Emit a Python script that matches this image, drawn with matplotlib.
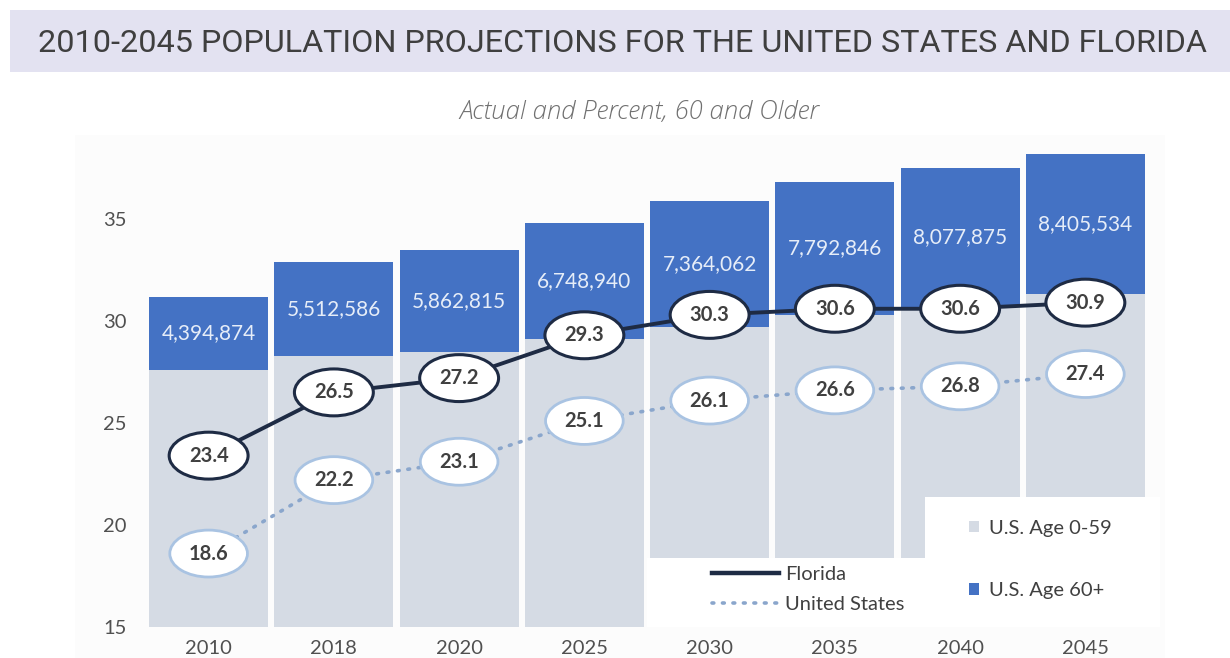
import matplotlib
matplotlib.use("Agg")
import matplotlib.pyplot as plt
from matplotlib.patches import Ellipse, Rectangle, Patch
from matplotlib.lines import Line2D
import numpy as np

# ---------------- data ----------------
years = ["2010", "2018", "2020", "2025", "2030", "2035", "2040", "2045"]
us_age_0_59 = [27.6, 28.3, 28.5, 29.1, 29.7, 30.3, 30.7, 31.3]
us_age_60_plus = [3.6, 4.6, 5.0, 5.7, 6.2, 6.5, 6.8, 6.9]
fl_pop_60_plus = [4394874, 5512586, 5862815, 6748940, 7364062, 7792846, 8077875, 8405534]
florida_pct = [23.4, 26.5, 27.2, 29.3, 30.3, 30.6, 30.6, 30.9]
us_pct = [18.6, 22.2, 23.1, 25.1, 26.1, 26.6, 26.8, 27.4]
yticks = [15, 20, 25, 30, 35]

TITLE = "2010-2045 POPULATION PROJECTIONS FOR THE UNITED STATES AND FLORIDA"
SUBTITLE = "Actual and Percent, 60 and Older"

# ---------------- style ----------------
plt.rcParams["font.family"] = ["Lato", "DejaVu Sans"]
GRAY = "#d5dbe4"
BLUE = "#4472c4"
NAVY = "#1e2b44"
LBLUE = "#8aa6cc"
TXT = "#404040"

W, H = 1230, 658
fig = plt.figure(figsize=(W / 100, H / 100), dpi=100)
fig.patch.set_facecolor("white")


def fx(px):
    return px / W


def fy(py):
    return 1 - py / H


# background blocks
fig.patches.append(Rectangle((fx(75), 0), fx(1165) - fx(75), fy(135), transform=fig.transFigure,
                             facecolor="#fcfcfc", edgecolor="none", zorder=-2))
fig.patches.append(Rectangle((fx(10), fy(72)), 1 - fx(10), fy(10) - fy(72), transform=fig.transFigure,
                             facecolor="#e3e2f1", edgecolor="none", zorder=-2))

fig.text(fx(622), fy(44), TITLE, ha="center", va="center", fontsize=23.3, color="#3f3f3f",
         family=["Roboto", "DejaVu Sans"])
fig.text(fx(639), fy(113), SUBTITLE, ha="center", va="center", fontsize=18.5, color="#707070",
         style="italic", fontweight="light", family=["Open Sans", "DejaVu Sans"])

ax = fig.add_axes([fx(146), fy(627), fx(1148) - fx(146), fy(137.4) - fy(627)])
ax.set_facecolor("none")
x = np.arange(len(years))

ax.bar(x, us_age_0_59, width=0.95, color=GRAY, zorder=1)
ax.bar(x, us_age_60_plus, bottom=us_age_0_59, width=0.95, color=BLUE, zorder=1)

for i in range(len(years)):
    ax.text(x[i], us_age_0_59[i] + us_age_60_plus[i] / 2, f"{fl_pop_60_plus[i]:,}",
            ha="center", va="center", fontsize=15, color="#e6edf8", zorder=2)

ax.plot(x, florida_pct, color=NAVY, lw=2.8, zorder=3, solid_capstyle="round")
ax.plot(x, us_pct, color=LBLUE, lw=2.6, ls=(0, (0.5, 2.4)), dash_capstyle="round", zorder=3)

for i in range(len(years)):
    ax.add_patch(Ellipse((x[i], florida_pct[i]), 0.63, 2.3, facecolor="white", edgecolor=NAVY,
                         lw=2.2, zorder=4))
    ax.text(x[i], florida_pct[i], f"{florida_pct[i]:.1f}", ha="center", va="center",
            fontsize=14.5, fontweight="bold", color=TXT, zorder=5)
    ax.add_patch(Ellipse((x[i], us_pct[i]), 0.62, 2.3, facecolor="white", edgecolor="#a9c3e2",
                         lw=2.0, zorder=4))
    ax.text(x[i], us_pct[i], f"{us_pct[i]:.1f}", ha="center", va="center",
            fontsize=14.5, fontweight="bold", color=TXT, zorder=5)

ax.set_xlim(-0.5, len(years) - 0.5)
ax.set_ylim(15, 39)
ax.set_xticks(x)
ax.set_xticklabels(years)
ax.set_yticks(yticks)
ax.tick_params(axis="both", length=0, labelsize=14.5, labelcolor="#505050")
ax.tick_params(axis="x", pad=9)
ax.tick_params(axis="y", pad=14)
for s in ax.spines.values():
    s.set_visible(False)

# legend backgrounds
ax.add_patch(Rectangle((0.5, 0), 0.277, 0.141, transform=ax.transAxes, facecolor="white",
                       edgecolor="none", zorder=6, clip_on=False))
ax.add_patch(Rectangle((0.777, 0), 0.235, 0.2655, transform=ax.transAxes, facecolor="white",
                       edgecolor="none", zorder=6, clip_on=False))

h1 = [Line2D([], [], color=NAVY, lw=3.2),
      Line2D([], [], color=LBLUE, lw=2.6, ls=(0, (0.5, 2.4)), dash_capstyle="round")]
leg1 = ax.legend(h1, ["Florida", "United States"], loc="center left",
                 bbox_to_anchor=(0.565, 0.0766), bbox_transform=ax.transAxes, frameon=False,
                 fontsize=14.5, handlelength=3.3, handletextpad=0.3, labelspacing=0.62,
                 borderpad=0, borderaxespad=0, labelcolor=TXT)
leg1.set_zorder(7)
ax.add_artist(leg1)

h2 = [Patch(facecolor=GRAY, edgecolor="none"), Patch(facecolor=BLUE, edgecolor="none")]
leg2 = ax.legend(h2, ["U.S. Age 0-59", "U.S. Age 60+"], loc="center left",
                 bbox_to_anchor=(0.821, 0.138), bbox_transform=ax.transAxes, frameon=False,
                 fontsize=14.5, handlelength=0.5, handleheight=0.5, handletextpad=0.5,
                 labelspacing=2.25, borderpad=0, borderaxespad=0, labelcolor=TXT)
leg2.set_zorder(7)

fig.savefig("out.png", dpi=100)
